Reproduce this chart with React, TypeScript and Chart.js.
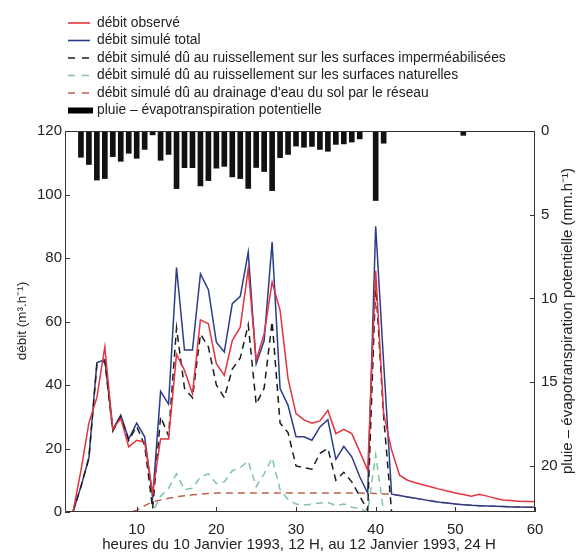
import { useEffect, useRef } from "react";
import { Chart, registerables } from "chart.js";

Chart.register(...registerables);

// ---- data ----
const hours = [2, 3, 4, 5, 6, 7, 8, 9, 10, 11, 12, 13, 14, 15, 16, 17, 18, 19, 20, 21, 22, 23, 24, 25, 26, 27, 28, 29, 30, 31, 32, 33, 34, 35, 36, 37, 38, 39, 40, 41, 42, 43, 44, 45, 46, 47, 48, 49, 50, 51, 52, 53, 54, 55, 56, 57, 58, 59, 60];

const observed = [0, 13, 28, 36, 52, 26, 29.5, 20.5, 22.6, 22, 6, 23, 23, 49.7, 44.6, 37.3, 60.5, 59.3, 46.7, 43, 54, 58.2, 76.6, 47.8, 56.1, 72.4, 63.5, 42, 31, 29, 28, 28.7, 32, 24.7, 26, 24.7, 19, 13.2, 76, 31, 19.5, 11.6, 10, 9.2, 8.5, 7.9, 7.2, 6.6, 6.0, 5.5, 5.0, 5.6, 5.0, 4.3, 3.8, 3.6, 3.4, 3.3, 3.2];

const simTotal = [0, 8, 17, 47, 48, 26, 30.5, 23, 28, 23.7, 4.5, 38, 34, 77, 51, 51, 75, 70, 53.5, 50.4, 65.6, 67.9, 81.8, 46.7, 54, 85, 38.9, 33.6, 23.7, 23.7, 22.6, 26.8, 29.1, 16.6, 20.7, 17.4, 11.1, 5.9, 90, 47, 5.6, 5.2, 4.7, 4.3, 3.9, 3.5, 3.1, 2.8, 2.5, 2.3, 2.1, 2.0, 1.9, 1.8, 1.7, 1.6, 1.6, 1.5, 1.5];

const simImpervious = [0, 8, 17, 46.5, 47.5, 25.5, 30, 22.5, 27, 21, 1, 30, 24, 58, 39, 36, 56, 52, 40, 36, 45, 48.5, 59, 34, 39, 60, 28, 25, 14.5, 14, 13.5, 18.5, 20, 10, 12.5, 9.5, 5, 0.5, 72, 30, 0, 0, 0, 0, 0, 0, 0, 0, 0, 0, 0, 0, 0, 0, 0, 0, 0, 0, 0];

const simNatural = [0, 0, 0, 0, 0, 0, 0, 0, 0, 0, 0, 5, 7.5, 12, 7, 7.5, 11, 12, 9, 9.5, 13, 14, 16, 8, 12, 17, 7, 4, 2.5, 2.2, 2.5, 2.8, 3, 2, 2.5, 1.5, 1, 0, 18, 0, 0, 0, 0, 0, 0, 0, 0, 0, 0, 0, 0, 0, 0, 0, 0, 0, 0, 0, 0];

const simDrainage = [0, 0, 0, 0, 0, 0, 0, 0, 0.5, 2, 3.2, 3.8, 4.3, 4.8, 5.1, 5.4, 5.6, 5.8, 6, 6, 6, 6, 6, 6, 6, 6, 6, 6, 6, 6, 6, 6, 6, 6, 6, 6, 6, 5.9, 5.8, 5.7, 5.6, 5.2, 4.7, 4.3, 3.9, 3.5, 3.1, 2.8, 2.5, 2.3, 2.1, 2.0, 1.9, 1.8, 1.7, 1.6, 1.6, 1.5, 1.5];

const rainHours = [3, 4, 5, 6, 7, 8, 9, 10, 11, 12, 13, 14, 15, 16, 17, 18, 19, 20, 21, 22, 23, 24, 25, 26, 27, 28, 29, 30, 31, 32, 33, 34, 35, 36, 37, 38, 40, 41, 51];
const rain = [1.57, 2.0, 2.93, 2.84, 1.53, 1.81, 1.33, 1.63, 1.1, 0.23, 1.75, 1.4, 3.44, 2.19, 2.19, 3.28, 2.96, 2.22, 2.11, 2.74, 2.84, 3.43, 2.18, 2.42, 3.56, 1.59, 1.4, 0.9, 0.97, 0.92, 1.1, 1.21, 0.8, 0.77, 0.66, 0.47, 4.15, 0.73, 0.26];

const xTicks = [10, 20, 30, 40, 50, 60];
const leftTicks = [0, 20, 40, 60, 80, 100, 120];
const rightTicks = [0, 5, 10, 15, 20];

const legendLabels = [
  "débit observé",
  "débit simulé total",
  "débit simulé dû au ruissellement sur les surfaces imperméabilisées",
  "débit simulé dû au ruissellement sur les surfaces naturelles",
  "débit simulé dû au drainage d'eau du sol par le réseau",
  "pluie – évapotranspiration potentielle",
];

const xTitle = "heures du 10 Janvier 1993, 12 H, au 12 Janvier 1993, 24 H";
const leftTitle = "débit (m³.h⁻¹)";
const rightTitle = "pluie – évapotranspiration potentielle (mm.h⁻¹)";

// ---- styles ----
const FONT = "'Liberation Sans', Arial, Helvetica, sans-serif";
const TEXT = "#222";
const AXIS = "#333";
const RED = "#e3343f";
const BLUE = "#2c3c88";
const BLACK = "#1c1c1c";
const GREEN = "#82c4a0";
const BROWN = "#c0604c";
const DASH = [7, 5];

const toXY = (xs: number[], ys: number[]) => xs.map((x, i) => ({ x, y: ys[i] }));

const decor = {
  id: "decor",
  afterDraw(chart: any) {
    const { ctx, chartArea, scales } = chart;
    const { left, right, top, bottom } = chartArea;
    ctx.save();
    ctx.strokeStyle = AXIS;
    ctx.lineWidth = 1;
    ctx.setLineDash([]);
    ctx.beginPath();
    ctx.rect(Math.round(left) + 0.5, Math.round(top) + 0.5, Math.round(right - left) - 1, Math.round(bottom - top) - 1);
    ctx.stroke();
    // inward ticks
    ctx.beginPath();
    leftTicks.forEach((v) => {
      const y = Math.round(scales.y.getPixelForValue(v)) + 0.5;
      ctx.moveTo(left, y);
      ctx.lineTo(left + 5, y);
    });
    rightTicks.forEach((v) => {
      const y = Math.round(scales.y2.getPixelForValue(v)) + 0.5;
      ctx.moveTo(right, y);
      ctx.lineTo(right - 5, y);
    });
    xTicks.forEach((v) => {
      const x = Math.round(scales.x.getPixelForValue(v)) + 0.5;
      ctx.moveTo(x, bottom);
      ctx.lineTo(x, bottom - 5);
    });
    ctx.stroke();

    // legend
    const colors = [RED, BLUE, BLACK, GREEN, BROWN, "#000"];
    const rowY0 = 23;
    const rowH = 17.5;
    ctx.font = `13.8px ${FONT}`;
    ctx.textBaseline = "middle";
    ctx.textAlign = "left";
    legendLabels.forEach((label, i) => {
      const y = rowY0 + i * rowH;
      ctx.strokeStyle = colors[i];
      ctx.fillStyle = colors[i];
      if (i === 5) {
        ctx.fillRect(68, y - 3, 25, 6);
      } else {
        ctx.lineWidth = 1.6;
        ctx.beginPath();
        if (i >= 2) {
          ctx.moveTo(68, y);
          ctx.lineTo(75, y);
          ctx.moveTo(82, y);
          ctx.lineTo(89, y);
        } else {
          ctx.moveTo(68, y);
          ctx.lineTo(90, y);
        }
        ctx.stroke();
      }
      ctx.fillStyle = TEXT;
      ctx.fillText(label, 97, y);
    });

    // axis titles
    ctx.fillStyle = TEXT;
    ctx.textAlign = "center";
    ctx.textBaseline = "middle";
    ctx.font = `15px ${FONT}`;
    ctx.fillText(xTitle, 299, 545);
    ctx.font = `13.5px ${FONT}`;
    ctx.save();
    ctx.translate(22, 321);
    ctx.rotate(-Math.PI / 2);
    ctx.fillText(leftTitle, 0, 0);
    ctx.restore();
    ctx.font = `15px ${FONT}`;
    ctx.save();
    ctx.translate(568, 321);
    ctx.rotate(-Math.PI / 2);
    ctx.fillText(rightTitle, 0, 0);
    ctx.restore();
    ctx.restore();
  },
};

export default function App() {
  const ref = useRef<HTMLCanvasElement | null>(null);
  useEffect(() => {
    if (!ref.current) return;
    const lineDs = (label: string, ys: number[], color: string, dashed: boolean) => ({
      type: "line" as const,
      label,
      data: toXY(hours, ys),
      borderColor: color,
      backgroundColor: color,
      borderWidth: 1.5,
      borderDash: dashed ? DASH : [],
      pointRadius: 0,
      tension: 0,
      fill: false,
      yAxisID: "y",
    });
    const tickFont = { family: FONT, size: 15 };
    const chart = new Chart(ref.current, {
      type: "line",
      data: {
        datasets: [
          lineDs(legendLabels[0], observed, RED, false),
          lineDs(legendLabels[2], simImpervious, BLACK, true),
          lineDs(legendLabels[1], simTotal, BLUE, false),
          lineDs(legendLabels[3], simNatural, GREEN, true),
          lineDs(legendLabels[4], simDrainage, BROWN, true),
          {
            type: "bar" as const,
            label: legendLabels[5],
            data: toXY(rainHours, rain),
            backgroundColor: "#111",
            borderWidth: 0,
            barThickness: 5,
            yAxisID: "y2",
          } as any,
        ],
      },
      options: {
        responsive: false,
        animation: false,
        devicePixelRatio: 1,
        layout: { padding: { top: 131, left: 0, right: 0, bottom: 0 } },
        plugins: {
          legend: { display: false },
          tooltip: { enabled: false },
          title: { display: false },
        },
        scales: {
          x: {
            type: "linear",
            min: 1,
            max: 60,
            offset: false,
            grid: { display: false, drawTicks: false },
            border: { display: false },
            afterBuildTicks: (s: any) => {
              s.ticks = xTicks.map((v) => ({ value: v }));
            },
            afterFit: (s: any) => {
              s.height = 42;
            },
            ticks: { font: tickFont, color: TEXT, padding: 9, maxRotation: 0, autoSkip: false },
          },
          y: {
            type: "linear",
            position: "left",
            min: 0,
            max: 120,
            grid: { display: false, drawTicks: false },
            border: { display: false },
            afterBuildTicks: (s: any) => {
              s.ticks = leftTicks.map((v) => ({ value: v }));
            },
            afterFit: (s: any) => {
              s.width = 65;
            },
            ticks: { font: tickFont, color: TEXT, padding: 3 },
          },
          y2: {
            type: "linear",
            position: "right",
            reverse: true,
            min: 0,
            max: 22.75,
            grid: { display: false, drawTicks: false },
            border: { display: false },
            afterBuildTicks: (s: any) => {
              s.ticks = rightTicks.map((v) => ({ value: v }));
            },
            afterFit: (s: any) => {
              s.width = 48;
            },
            ticks: { font: tickFont, color: TEXT, padding: 6 },
          },
        },
      } as any,
      plugins: [decor],
    });
    return () => chart.destroy();
  }, []);
  return (
    <div style={{ position: "absolute", left: 0, top: 0, width: 583, height: 554, background: "#fff" }}>
      <canvas ref={ref} width={583} height={554} style={{ display: "block" }} />
    </div>
  );
}
